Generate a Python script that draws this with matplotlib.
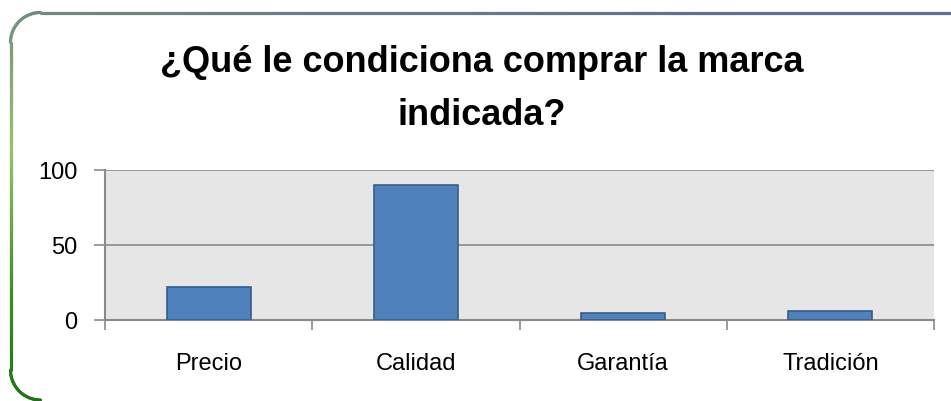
import matplotlib
matplotlib.use("Agg")
import matplotlib.pyplot as plt
import numpy as np
from matplotlib.collections import LineCollection
from matplotlib.colors import LinearSegmentedColormap

# data
categories = ["Precio", "Calidad", "Garantía", "Tradición"]
values = [22, 90, 5, 6]
title = "¿Qué le condiciona comprar la marca\nindicada?"

W, H = 951, 402
fig = plt.figure(figsize=(W / 100, H / 100), dpi=100)
fig.patch.set_facecolor("white")

# rounded frame (left + top edge) with a green -> slate gradient, in pixels
r = 30
x0, y0, x1, y1 = 10.5, 13.5, 960, 401
pts = [(x0 + r + r * np.cos(t), y1 - r + r * np.sin(t)) for t in np.linspace(np.pi / 2, np.pi, 20)]
pts += [(x0, y) for y in np.linspace(y1 - r, y0 + r, 120)]
pts += [(x0 + r + r * np.cos(t), y0 + r - r * np.sin(t)) for t in np.linspace(np.pi, np.pi / 2, 20)]
pts += [(x, y0) for x in np.linspace(x0 + r, x1, 200)]
pts = np.array(pts)
arc = np.concatenate([[0], np.cumsum(np.hypot(*np.diff(pts, axis=0).T))])
arc = arc / arc[-1]
fpts = np.column_stack([pts[:, 0] / W, 1 - pts[:, 1] / H])
segs = np.stack([fpts[:-1], fpts[1:]], axis=1)
cmap = LinearSegmentedColormap.from_list("frame", [
    (0.0, "#1f6f16"), (0.09, "#3b8a2b"), (0.2, "#9cc06a"),
    (0.27, "#80a07a"), (0.31, "#6d8c80"), (0.45, "#668384"),
    (0.85, "#587393"), (1.0, "#587196")])
lc = LineCollection(segs, cmap=cmap, linewidths=2.3, transform=fig.transFigure,
                    capstyle="round")
lc.set_array((arc[:-1] + arc[1:]) / 2)
lc.set_clim(0, 1)
fig.add_artist(lc)

ax = fig.add_axes([105 / W, 1 - 321 / H, 829 / W, 150 / H])
ax.set_facecolor("#e6e6e6")
x = np.arange(len(categories))
ax.bar(x, values, width=0.405, color="#4f81bd", edgecolor="#385d8a", linewidth=1.2, zorder=3)

ax.set_xlim(-0.5, len(categories) - 0.5)
ax.set_ylim(0, 100)
ax.set_yticks([0, 50, 100])
ax.yaxis.grid(True, color="#8a8a8a", linewidth=1.2, zorder=1)
ax.set_axisbelow(True)

ax.set_xticks(np.arange(-0.5, len(categories)), labels=[])
ax.set_xticks(x, labels=categories, minor=True)
ax.tick_params(axis="x", which="major", length=7, width=1.2, color="#8a8a8a")
ax.tick_params(axis="x", which="minor", length=0, pad=23, labelsize=17)
ax.tick_params(axis="y", length=8, width=1.2, color="#8a8a8a", pad=12, labelsize=17)
for lab in ax.get_xticklabels(minor=True) + ax.get_yticklabels():
    lab.set_fontfamily("Liberation Sans")

for s in ["top", "right"]:
    ax.spines[s].set_visible(False)
for s in ["left", "bottom"]:
    ax.spines[s].set_color("#8a8a8a")
    ax.spines[s].set_linewidth(1.5)

fig.text(482 / W, 1 - 89 / H, title, ha="center", va="center", fontsize=26,
         fontweight="bold", family="Liberation Sans", linespacing=1.7)

fig.savefig("out.png", dpi=100)
